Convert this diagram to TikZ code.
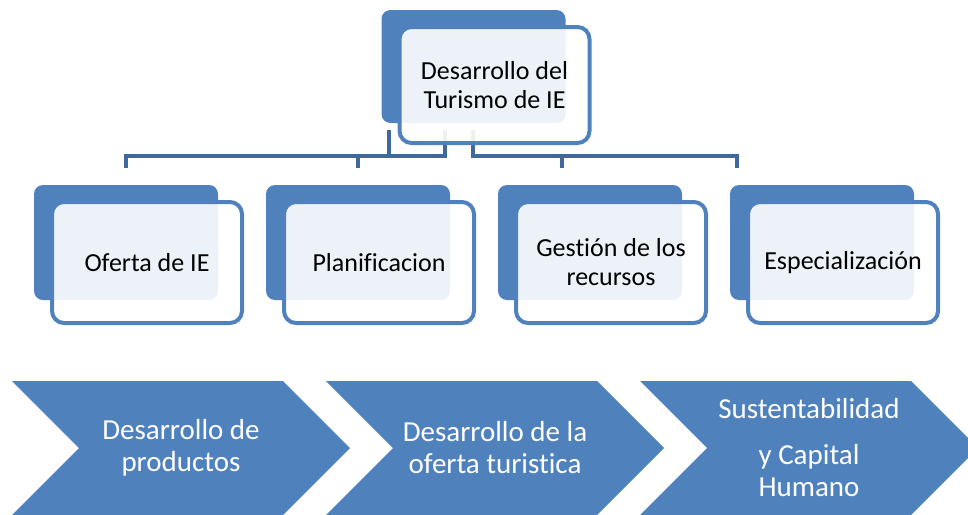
\documentclass[tikz,border=0pt]{standalone}
\usepackage{fontspec}
\setmainfont{Carlito}[Ligatures=NoCommon]
\usetikzlibrary{positioning}
\definecolor{boxblue}{RGB}{79,129,189}
\definecolor{linkblue}{RGB}{64,104,154}

\begin{document}
\begin{tikzpicture}[x=1pt, y=-1pt,
    backbox/.style={rectangle, fill=boxblue, rounded corners=9pt,
                    minimum width=184pt, minimum height=115pt, inner sep=0pt, outer sep=0pt},
    frontbox/.style={rectangle, draw=boxblue, line width=4pt, fill=white, fill opacity=0.9,
                     text opacity=1, rounded corners=12pt, minimum width=190pt, minimum height=121pt,
                     inner sep=0pt, outer sep=0pt, align=center, anchor=north west,
                     font=\fontsize{26}{29}\selectfont},
    conn/.style={draw=linkblue, line width=4.5pt},
    chevtext/.style={align=center, text=white, font=\fontsize{29}{32}\selectfont}
]
    \useasboundingbox (0,0) rectangle (968,514);
    \clip (0,0) rectangle (968,514);

    % ── Back boxes ──
    \node[backbox, minimum height=113pt] (topb) at (473.5, 66.5) {};
    \node[backbox] (ofertab) at (126, 242.5) {};
    \node[backbox] (planb)   at (358, 242.5) {};
    \node[backbox] (gestb)   at (590, 242.5) {};
    \node[backbox] (especb)  at (822, 242.5) {};

    % ── Connectors (under the front boxes) ──
    \coordinate (up1) at (389, 130);
    \coordinate (up2) at (445, 130);
    \coordinate (up3) at (473, 130);
    \coordinate (gtick) at (562, 168);
    \coordinate (etick) at (737, 168);
    \draw[conn] (up1) -- ++(0,26) -| ([yshift=17pt]ofertab.north);
    \draw[conn] (up2) -- ++(0,26) -| ([yshift=17pt]planb.north);
    \draw[conn] (up3) -- ++(0,26) -| (gtick);
    \draw[conn] (up3) -- ++(0,26) -| (etick);

    % ── Front boxes ──
    \node[frontbox, minimum height=116pt] (top) at ([shift={(18,17)}]topb.north west)
        {Desarrollo del\\Turismo de IE};
    \node[frontbox] (oferta) at ([shift={(18,17)}]ofertab.north west) {Oferta de IE};
    \node[frontbox] (plan)   at ([shift={(18,17)}]planb.north west)   {Planificacion};
    \node[frontbox] (gest)   at ([shift={(18,17)}]gestb.north west)   {Gestión de los\\recursos};
    \node[frontbox] (especi) at ([shift={(18,17)}]especb.north west)  {Especialización};

    % ── Chevrons ──
    \foreach \x in {12, 326, 640}
        \fill[boxblue] (\x,381) -- ++(271,0) -- ++(67,67) -- ++(-67,67)
                       -- ++(-271,0) -- ++(67,-67) -- cycle;
    \node[chevtext] (prod)  at (181, 448) {Desarrollo de\\productos};
    \node[chevtext] (ofert) at (495, 448) {Desarrollo de la\\oferta turistica};
    \node[chevtext] (sust)  at (809, 448) {Sustentabilidad\\[14pt]y Capital\\Humano};
\end{tikzpicture}
\end{document}
